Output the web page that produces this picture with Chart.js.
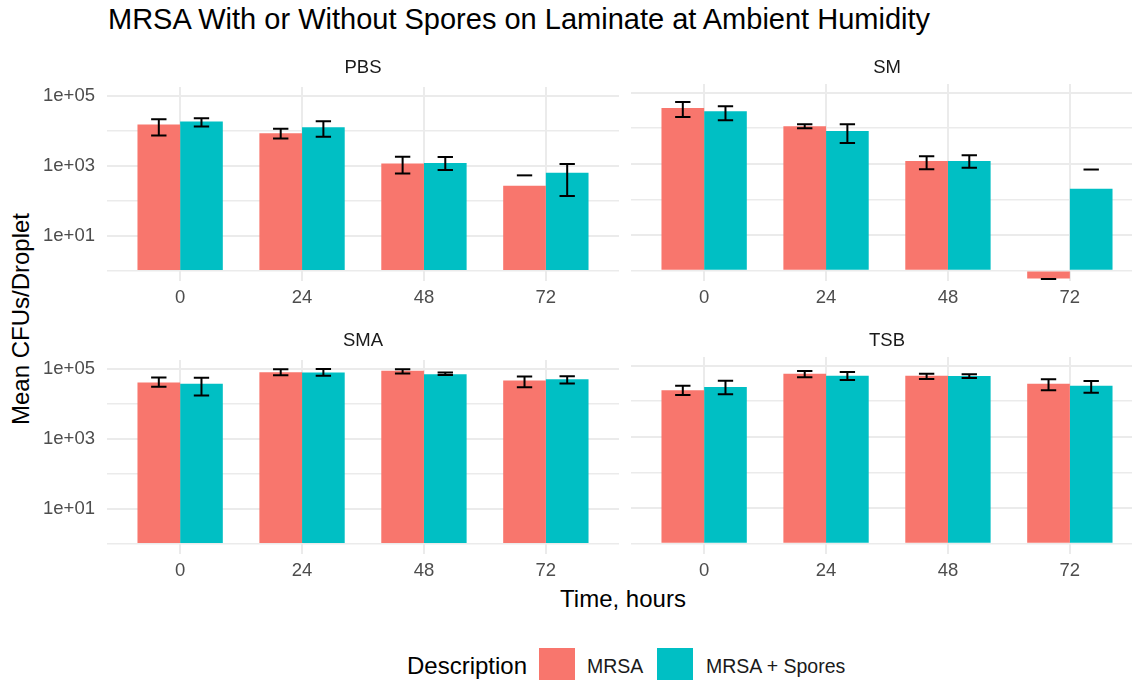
<!DOCTYPE html>
<html><head><meta charset="utf-8">
<script src="https://cdn.jsdelivr.net/npm/chart.js@4.4.1/dist/chart.umd.min.js"></script>
<style>
html,body{margin:0;padding:0;width:1132px;height:680px;overflow:hidden;background:#fff;font-family:'Liberation Sans',Arial,sans-serif;}
.abs{position:absolute;white-space:nowrap;}
.ctr{transform:translate(-50%,-50%);}
canvas{position:absolute;}
</style></head><body>
<div id="root"></div>
<script>
// ---------- data ----------
const chartTitle = 'MRSA With or Without Spores on Laminate at Ambient Humidity';
const yTitle = 'Mean CFUs/Droplet';
const xTitle = 'Time, hours';
const legendTitle = 'Description';
const panels = ['PBS', 'SM', 'SMA', 'TSB'];
const timeLabels = ['0', '24', '48', '72'];
const seriesNames = ['MRSA', 'MRSA + Spores'];
const seriesColors = ['#F8766D', '#00BFC4'];
const yTickValues = [1, 10, 100, 1000, 10000, 100000];
const yTickLabels = {10: '1e+01', 1000: '1e+03', 100000: '1e+05'};

// PBS
const pbsMrsa      = [15000, 8500, 1160, 267];
const pbsMrsaHi    = [21100, 11300, 1800, 530];
const pbsMrsaLo    = [7230, 6000, 600, null];
const pbsSpores    = [18200, 12600, 1190, 625];
const pbsSporesHi  = [22600, 18500, 1760, 1115];
const pbsSporesLo  = [13200, 6700, 755, 137];
// SM
const smMrsa       = [37200, 11400, 1210, 0.6];
const smMrsaHi     = [54700, 12900, 1640, 0.58];
const smMrsaLo     = [20800, 10000, 710, null];
const smSpores     = [30000, 8420, 1210, 199];
const smSporesHi   = [41400, 12900, 1750, 693];
const smSporesLo   = [16800, 3880, 773, null];
// SMA
const smaMrsa      = [40500, 78900, 87900, 46100];
const smaMrsaHi    = [56000, 95700, 95700, 59700];
const smaMrsaLo    = [30600, 65000, 72400, 29300];
const smaSpores    = [37100, 77200, 69400, 50200];
const smaSporesHi  = [54700, 97900, 77200, 61000];
const smaSporesLo  = [17100, 62300, 66400, 37900];
// TSB
const tsbMrsa      = [20300, 59700, 52400, 31300];
const tsbMrsaHi    = [27500, 70800, 59700, 41400];
const tsbMrsaLo    = [15000, 47100, 42300, 20300];
const tsbSpores    = [25200, 52400, 51500, 27500];
const tsbSporesHi  = [37900, 66400, 57100, 37200];
const tsbSporesLo  = [15700, 39600, 45100, 17500];

const panelSeries = {
  PBS: [[pbsMrsa, pbsMrsaHi, pbsMrsaLo], [pbsSpores, pbsSporesHi, pbsSporesLo]],
  SM:  [[smMrsa, smMrsaHi, smMrsaLo], [smSpores, smSporesHi, smSporesLo]],
  SMA: [[smaMrsa, smaMrsaHi, smaMrsaLo], [smaSpores, smaSporesHi, smaSporesLo]],
  TSB: [[tsbMrsa, tsbMrsaHi, tsbMrsaLo], [tsbSpores, tsbSporesHi, tsbSporesLo]]
};

// ---------- layout ----------
const FONT = "'Liberation Sans', Arial, sans-serif";
const layout = {
  PBS: {left: 0,   top: 64,  width: 619, height: 257, yw: 107, showY: true},
  SM:  {left: 631, top: 64,  width: 512, height: 257, yw: 0,   showY: false},
  SMA: {left: 0,   top: 337, width: 619, height: 257, yw: 107, showY: true},
  TSB: {left: 631, top: 337, width: 512, height: 257, yw: 0,   showY: false}
};
const PAD_TOP = 20, X_AXIS_H = 40;

const root = document.getElementById('root');
function addText(txt, css, cls) {
  const d = document.createElement('div');
  d.className = 'abs ' + (cls || '');
  d.textContent = txt;
  d.style.cssText += css;
  root.appendChild(d);
  return d;
}

addText(chartTitle, 'left:108px;top:5px;font-size:29px;line-height:29px;color:#000;');
addText(yTitle, 'left:21px;top:319px;font-size:24px;line-height:24px;color:#000;transform:translate(-50%,-50%) rotate(-90deg);');
addText(xTitle, 'left:623px;top:599px;font-size:24px;line-height:24px;color:#000;', 'ctr');

// legend
addText(legendTitle, 'left:407px;top:654px;font-size:24px;line-height:24px;color:#000;');
const legendKeyLeft = [539, 657];
const legendTextLeft = [587, 706];
seriesNames.forEach((n, k) => {
  const sq = document.createElement('div');
  sq.className = 'abs';
  sq.style.cssText = `left:${legendKeyLeft[k]}px;top:648px;width:36px;height:36px;background:${seriesColors[k]};`;
  root.appendChild(sq);
  addText(n, `left:${legendTextLeft[k]}px;top:657px;font-size:19.5px;line-height:19.5px;color:#1A1A1A;`);
});

const errorBarPlugin = {
  id: 'errbars',
  afterDatasetsDraw(chart) {
    const ctx = chart.ctx, ys = chart.scales.y;
    chart.data.datasets.forEach((ds, di) => {
      const meta = chart.getDatasetMeta(di);
      meta.data.forEach((bar, i) => {
        const hi = ds.errHi[i], lo = ds.errLo[i];
        if (hi == null) return;
        const half = bar.width * 0.18;
        ctx.save();
        ctx.strokeStyle = '#000';
        ctx.lineWidth = 2;
        ctx.beginPath();
        const yh = ys.getPixelForValue(hi);
        ctx.moveTo(bar.x - half, yh); ctx.lineTo(bar.x + half, yh);
        if (lo != null) {
          const yl = ys.getPixelForValue(lo);
          ctx.moveTo(bar.x, yh); ctx.lineTo(bar.x, yl);
          ctx.moveTo(bar.x - half, yl); ctx.lineTo(bar.x + half, yl);
        }
        ctx.stroke();
        ctx.restore();
      });
    });
  }
};

panels.forEach(p => {
  const L = layout[p];
  const cv = document.createElement('canvas');
  cv.width = L.width; cv.height = L.height;
  cv.style.left = L.left + 'px'; cv.style.top = L.top + 'px';
  cv.style.width = L.width + 'px'; cv.style.height = L.height + 'px';
  root.appendChild(cv);

  // strip label
  const cx = L.left + L.yw + (L.width - L.yw) / 2;
  addText(p, `left:${cx}px;top:${L.top + 3}px;font-size:18.5px;line-height:18.5px;color:#1A1A1A;`, 'ctr');

  const datasets = panelSeries[p].map((s, k) => ({
    label: seriesNames[k],
    data: s[0].map((v, i) => ({x: i + 1, y: v})),
    errHi: s[1], errLo: s[2],
    backgroundColor: seriesColors[k],
    borderWidth: 0,
    base: 1,
    categoryPercentage: 0.7,
    barPercentage: 1.0
  }));

  new Chart(cv, {
    type: 'bar',
    data: {datasets},
    options: {
      responsive: false, animation: false, maintainAspectRatio: false,
      events: [],
      layout: {padding: {top: PAD_TOP, left: 0, right: 0, bottom: 0}},
      plugins: {legend: {display: false}, tooltip: {enabled: false}, title: {display: false}},
      scales: {
        x: {
          type: 'linear', min: 0.4, max: 4.6, offset: false,
          afterBuildTicks: s => { s.ticks = timeLabels.map((t, i) => ({value: i + 1})); },
          afterFit: s => { s.height = X_AXIS_H; },
          ticks: {callback: v => timeLabels[v - 1], color: '#4D4D4D', font: {family: FONT, size: 18.5},
                  padding: 6, maxRotation: 0, autoSkip: false},
          grid: {color: '#EBEBEB', lineWidth: 2, drawTicks: false, offset: false},
          border: {display: false}
        },
        y: {
          type: 'logarithmic', min: 0.51, max: 175700,
          afterBuildTicks: s => { s.ticks = yTickValues.map(v => ({value: v})); },
          afterFit: s => { s.width = L.yw; },
          ticks: {display: L.showY, callback: v => yTickLabels[v] || '', color: '#4D4D4D',
                  font: {family: FONT, size: 18.5}, padding: 12, autoSkip: false},
          grid: {color: '#EBEBEB', lineWidth: c => (c.tick && yTickLabels[c.tick.value]) ? 2 : 1.6, drawTicks: false},
          border: {display: false}
        }
      }
    },
    plugins: [errorBarPlugin]
  });
});
</script>
</body></html>
